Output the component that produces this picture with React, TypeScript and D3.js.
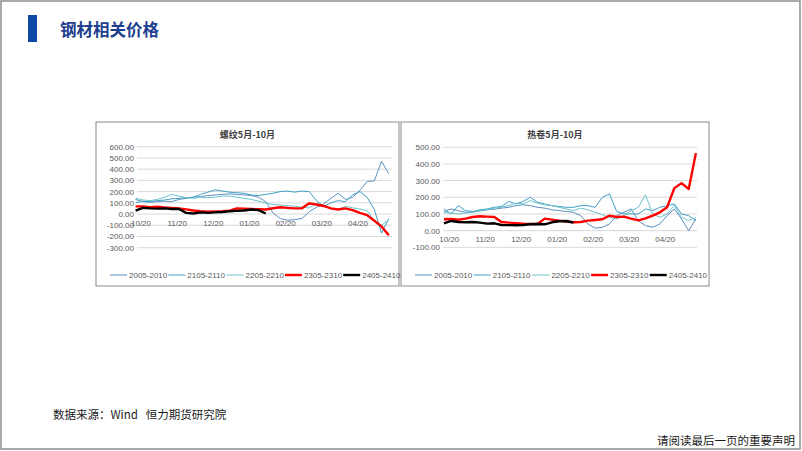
import React from 'react';
import * as d3 from 'd3';

// sample grid: months after 10/20, one value every 0.2 month starting at -0.15
const T_START = -0.15;
const T_STEP = 0.2;

const monthLabels = ['10/20', '11/20', '12/20', '01/20', '02/20', '03/20', '04/20'];
const seriesNames = ['2005-2010', '2105-2110', '2205-2210', '2305-2310', '2405-2410'];

// 螺纹 spreads
const rebar2005 = [130, 110, 105, 110, 115, 110, 130, 140, 150, 155, 165, 170, 175, 180, 175, 170, 165, 150, 110, 10, -40, -55, -50, -40, 20, 60, 90, 140, 185, 130, 150, 210, 290, 295, 470, 360];
const rebar2105 = [100, 115, 110, 120, 125, 135, 140, 145, 150, 175, 195, 215, 205, 195, 190, 185, 170, 165, 175, 185, 200, 205, 195, 205, 200, 120, 70, 100, 120, 110, 170, 200, 150, 40, -170, -40];
const rebar2205 = [140, 125, 120, 130, 150, 175, 160, 145, 140, 150, 145, 150, 160, 160, 150, 140, 130, 115, 95, 85, 80, 75, 70, 60, 55, 95, 75, 45, 40, 70, 55, 45, 30, -60, -100, -50];
const rebar2305 = [68, 68, 62, 66, 58, 55, 50, 42, 32, 25, 20, 22, 25, 30, 50, 48, 45, 42, 40, 52, 60, 55, 50, 52, 95, 85, 72, 50, 40, 50, 35, 10, -10, -60, -110, -190];
const rebar2405 = [30, 55, 50, 48, 50, 45, 45, 10, 5, 15, 10, 15, 18, 25, 28, 32, 40, 35, 5];

// 热卷 spreads
const hrc2005 = [115, 130, 120, 110, 112, 118, 125, 128, 135, 140, 150, 155, 150, 140, 135, 125, 120, 115, 110, 90, 40, 15, 20, 40, 90, 110, 130, 60, 30, 20, 40, 90, 130, 70, 0, 70];
const hrc2105 = [130, 100, 150, 120, 115, 125, 130, 140, 145, 175, 160, 175, 200, 170, 160, 150, 145, 140, 140, 150, 150, 140, 200, 220, 115, 100, 100, 100, 130, 120, 140, 150, 160, 100, 90, 60];
const hrc2205 = [110, 105, 100, 105, 110, 120, 125, 135, 140, 150, 165, 160, 180, 165, 155, 150, 140, 130, 120, 135, 125, 110, 95, 80, 70, 90, 120, 140, 215, 100, 80, 100, 150, 80, 60, 80];
const hrc2305 = [68, 70, 65, 72, 82, 86, 84, 82, 52, 48, 45, 42, 40, 40, 72, 66, 60, 55, 50, 52, 60, 64, 68, 90, 82, 84, 72, 62, 74, 90, 110, 140, 255, 285, 250, 465];
const hrc2405 = [44, 58, 52, 50, 52, 48, 42, 44, 34, 33, 32, 34, 38, 40, 38, 50, 56, 58, 48];

const rebarTicks = [600, 500, 400, 300, 200, 100, 0, -100, -200, -300];
const hrcTicks = [500, 400, 300, 200, 100, 0, -100];

const colors = ['#5d8fbd', '#3f9fc6', '#6cc3cd', '#ff0000', '#000000'];
const widths = [1, 1, 1, 2.4, 2.4];

const FONT = '"Liberation Sans", Arial, sans-serif';
const CJK = '"Noto Sans CJK SC", sans-serif';

type PanelProps = {
  title: string;
  data: number[][];
  ticks: number[];
  box: { x: number; y: number; w: number; h: number };
  plot: { left: number; right: number; top: number; bottom: number };
  x0: number; // pixel of first month label
  pxPerMonth: number;
  labelY: number;
  legendX: number;
  legendStep: number;
};

const Panel = (p: PanelProps) => {
  const yScale = d3.scaleLinear()
    .domain([d3.min(p.ticks)!, d3.max(p.ticks)!])
    .range([p.plot.bottom, p.plot.top]);
  const xScale = d3.scaleLinear().domain([0, 1]).range([p.x0, p.x0 + p.pxPerMonth]);

  const mkLine = d3.line<number>()
    .x((_, i) => xScale(T_START + i * T_STEP))
    .y(v => yScale(v));

  const midX = (p.box.x + p.box.x + p.box.w) / 2;

  return (
    <g>
      <rect x={p.box.x} y={p.box.y} width={p.box.w} height={p.box.h} fill="#fff" stroke="#8a8a8a" strokeWidth={1} />
      <text x={midX} y={p.box.y + 16} textAnchor="middle" fontFamily={CJK} fontSize={9} fontWeight="bold" fill="#404040">{p.title}</text>
      {p.ticks.map(t => (
        <g key={t}>
          <line x1={p.plot.left} x2={p.plot.right} y1={yScale(t)} y2={yScale(t)} stroke="#d9d9d9" strokeWidth={1} />
          <text x={p.plot.left - 3} y={yScale(t) + 3} textAnchor="end" fontFamily={FONT} fontSize={8} fill="#595959">{t.toFixed(2)}</text>
        </g>
      ))}
      {monthLabels.map((m, i) => (
        <text key={m} x={xScale(i)} y={p.labelY} textAnchor="middle" fontFamily={FONT} fontSize={8} fill="#595959">{m}</text>
      ))}
      {p.data.map((d, i) => (
        <path key={i} d={mkLine(d) || ''} fill="none" stroke={colors[i]} strokeWidth={widths[i]} strokeLinejoin="round" />
      ))}
      {seriesNames.map((n, i) => {
        const lx = p.legendX + i * p.legendStep;
        const ly = p.box.y + 153;
        return (
          <g key={n}>
            <line x1={lx} x2={lx + 17} y1={ly} y2={ly} stroke={colors[i]} strokeWidth={widths[i] > 1 ? 2.4 : 1} />
            <text x={lx + 19} y={ly + 3} fontFamily={FONT} fontSize={8} fill="#595959">{n}</text>
          </g>
        );
      })}
    </g>
  );
};

export default function App() {
  return (
    <svg width={802} height={451} style={{ position: 'absolute', left: 0, top: 0, background: '#fff' }}>
      <rect x={1} y={1} width={799} height={448} fill="#fff" stroke="#8f8f8f" strokeWidth={1.5} />
      <rect x={28} y={15} width={9} height={27} fill="#0d48a5" />
      <text x={60} y={36} fontFamily={CJK} fontSize={16.5} fontWeight="bold" fill="#1d3f8e">钢材相关价格</text>

      <Panel
        title="螺纹5月-10月"
        data={[rebar2005, rebar2105, rebar2205, rebar2305, rebar2405]}
        ticks={rebarTicks}
        box={{ x: 96, y: 122, w: 303, h: 164 }}
        plot={{ left: 137, right: 392, top: 146.7, bottom: 247.7 }}
        x0={141}
        pxPerMonth={36.17}
        labelY={226}
        legendX={110}
        legendStep={58.3}
      />
      <Panel
        title="热卷5月-10月"
        data={[hrc2005, hrc2105, hrc2205, hrc2305, hrc2405]}
        ticks={hrcTicks}
        box={{ x: 401, y: 122, w: 308, h: 164 }}
        plot={{ left: 443, right: 697, top: 147.3, bottom: 247.3 }}
        x0={449.3}
        pxPerMonth={36}
        labelY={242}
        legendX={415}
        legendStep={58.7}
      />

      <text x={53} y={419} fontFamily={CJK} fontSize={11.5} fill="#1a1a1a">{'数据来源：Wind\u00a0\u00a0\u00a0恒力期货研究院'}</text>
      <text x={795} y={445} textAnchor="end" fontFamily={CJK} fontSize={11.5} fill="#1a1a1a">请阅读最后一页的重要声明</text>
    </svg>
  );
}
